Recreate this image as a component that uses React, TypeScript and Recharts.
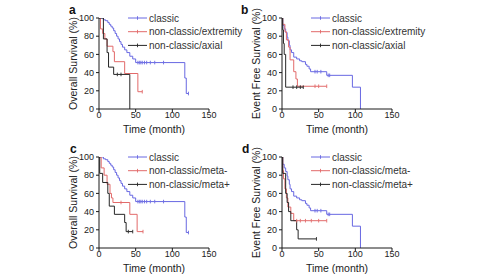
import { LineChart, Line, XAxis, YAxis } from "recharts";

const FONT = '"Liberation Sans Narrow", "Arial Narrow", "Liberation Sans", Arial, sans-serif';
const BLUE = "#6868e2";
const RED = "#e26a6a";
const BLACK = "#262626";
const AXIS = "#1a1a1a";

const xTicks = [0, 50, 100, 150];
const yTicks = [0, 20, 40, 60, 80, 100];

// overall survival (months / %), censor times in separate lists
const classicOSTime = [0, 6, 9, 12, 14, 16, 18, 20, 22, 24, 26, 28, 30, 32, 35, 38, 42, 46, 50, 117, 119];
const classicOSSurv = [100, 98, 97, 95, 93, 91, 89, 86, 83, 80, 77, 74, 71, 68, 65, 62, 58, 55, 51, 34, 17];
const classicOSCens = [53, 55, 57, 59, 62, 65, 70, 76, 88, 122];

const extremityOSTime = [0, 2, 5, 8, 11, 19, 21, 35, 53];
const extremityOSSurv = [100, 88, 83, 77, 69, 63, 52, 39, 19];
const extremityOSCens = [59];

const axialOSTime = [0, 6, 11, 13, 20, 42];
const axialOSSurv = [100, 77, 62, 46, 38, 0];
const axialOSCens = [25, 30];

const metaNegOSTime = [0, 3, 7, 11, 15, 17, 19, 42, 52];
const metaNegOSSurv = [100, 88, 80, 70, 60, 55, 50, 37, 18];
const metaNegOSCens = [30, 60];

const metaPosOSTime = [0, 1, 5, 12, 14, 21, 35, 37];
const metaPosOSSurv = [100, 82, 72, 60, 46, 37, 28, 18];
const metaPosOSCens = [40, 46];

// event free survival
const classicEFSTime = [0, 1, 3, 5, 7, 8, 10, 11, 13, 16, 20, 24, 27, 32, 34, 37, 39, 61, 96, 107];
const classicEFSSurv = [100, 92, 88, 84, 79, 75, 70, 65, 62, 57, 55, 53, 52, 49, 47, 44, 41, 37, 24, 0];
const classicEFSCens = [45, 48, 53, 63, 65];

const extremityEFSTime = [0, 1, 4, 6, 9, 11, 16, 19, 21];
const extremityEFSSurv = [100, 93, 85, 76, 68, 54, 41, 33, 25];
const extremityEFSCens = [45, 50, 61];

const axialEFSTime = [0, 1, 2, 3, 5];
const axialEFSSurv = [100, 87, 72, 60, 24];
const axialEFSCens = [15, 20, 25, 29];

const metaNegEFSTime = [0, 1, 2, 4, 6, 8, 12, 16];
const metaNegEFSSurv = [100, 85, 76, 65, 55, 45, 38, 30];
const metaNegEFSCens = [20, 25, 32, 40, 50, 61];

const metaPosEFSTime = [0, 1, 5, 7, 9, 12, 20, 22];
const metaPosEFSSurv = [100, 82, 60, 50, 40, 30, 20, 10];
const metaPosEFSCens = [47];

type Pt = { t: number; s: number; c?: boolean };

// merge event steps with censor marks (censor sits on the current step level)
function km(times: number[], surv: number[], cens: number[]): Pt[] {
  const pts: Pt[] = times.map((t, i) => ({ t, s: surv[i] }));
  cens.forEach((ct) => {
    let s = surv[0];
    times.forEach((t, i) => {
      if (t <= ct) s = surv[i];
    });
    pts.push({ t: ct, s, c: true });
  });
  return pts.sort((a, b) => a.t - b.t || (a.c ? 1 : 0) - (b.c ? 1 : 0));
}

type Series = { name: string; color: string; data: Pt[] };

const censorDot = (color: string) => (p: any) => {
  const k = `${color}-${p.index}`;
  if (!p.payload || !p.payload.c) return <g key={k} />;
  return <line key={k} x1={p.cx} x2={p.cx} y1={p.cy - 1.8} y2={p.cy + 1.8} stroke={color} strokeWidth={0.9} />;
};

function LegendBox({ series }: { series: Series[] }) {
  return (
    <svg width={130} height={44} style={{ overflow: "visible", display: "block" }}>
      {series.map((s, i) => {
        const y = 4 + i * 13.7;
        return (
          <g key={s.name}>
            <line x1={0} x2={19} y1={y} y2={y} stroke={s.color} strokeWidth={1} />
            <line x1={9.5} x2={9.5} y1={y - 1.8} y2={y + 1.8} stroke={s.color} strokeWidth={0.9} />
            <text x={21} y={y + 3.5} fontSize={10} fontFamily={FONT} fill="#333">
              {s.name}
            </text>
          </g>
        );
      })}
    </svg>
  );
}

const PW = 110;
const PH = 91;
const YW = 50;
const XH = 36;
const TOP = 12;

type PanelProps = { px: number; py: number; letter: string; lx: number; yLabel: string; series: Series[] };

function Panel({ px, py, letter, lx, yLabel, series }: PanelProps) {
  return (
    <>
      <div
        style={{
          position: "absolute",
          left: lx,
          top: py - 14,
          fontFamily: '"Liberation Sans", Arial, sans-serif',
          fontWeight: "bold",
          fontSize: 12,
          lineHeight: "12px",
          color: "#111",
        }}
      >
        {letter}
      </div>
      <div style={{ position: "absolute", left: px - YW, top: py - TOP }}>
        <LineChart width={PW + YW + 10} height={PH + TOP + XH} margin={{ top: TOP, right: 10, left: 0, bottom: 0 }}>
          <XAxis
            type="number"
            dataKey="t"
            domain={[0, 150]}
            ticks={xTicks}
            allowDataOverflow
            height={XH}
            tickSize={3}
            tickMargin={0}
            stroke={AXIS}
            tick={{ fontSize: 9, fill: "#222", fontFamily: FONT }}
            label={{ value: "Time (month)", position: "center", dy: 2, fontSize: 10.5, fill: "#222", fontFamily: FONT }}
          />
          <YAxis
            type="number"
            domain={[0, 100]}
            ticks={yTicks}
            allowDataOverflow
            width={YW}
            tickSize={3}
            tickMargin={2}
            stroke={AXIS}
            tick={{ fontSize: 9, fill: "#222", fontFamily: FONT }}
            label={{ value: yLabel, angle: -90, position: "center", dx: -1, fontSize: 10.5, fill: "#222", fontFamily: FONT }}
          />
          {series.map((s) => (
            <Line
              key={s.name}
              data={s.data}
              dataKey="s"
              type="stepAfter"
              stroke={s.color}
              strokeWidth={1}
              dot={censorDot(s.color)}
              activeDot={false}
              isAnimationActive={false}
            />
          ))}
        </LineChart>
      </div>
      <div style={{ position: "absolute", left: px + 29, top: py - 4 }}>
        <LegendBox series={series} />
      </div>
    </>
  );
}

const osExtremity: Series[] = [
  { name: "classic", color: BLUE, data: km(classicOSTime, classicOSSurv, classicOSCens) },
  { name: "non-classic/extremity", color: RED, data: km(extremityOSTime, extremityOSSurv, extremityOSCens) },
  { name: "non-classic/axial", color: BLACK, data: km(axialOSTime, axialOSSurv, axialOSCens) },
];

const efsExtremity: Series[] = [
  { name: "classic", color: BLUE, data: km(classicEFSTime, classicEFSSurv, classicEFSCens) },
  { name: "non-classic/extremity", color: RED, data: km(extremityEFSTime, extremityEFSSurv, extremityEFSCens) },
  { name: "non-classic/axial", color: BLACK, data: km(axialEFSTime, axialEFSSurv, axialEFSCens) },
];

const osMeta: Series[] = [
  { name: "classic", color: BLUE, data: km(classicOSTime, classicOSSurv, classicOSCens) },
  { name: "non-classic/meta-", color: RED, data: km(metaNegOSTime, metaNegOSSurv, metaNegOSCens) },
  { name: "non-classic/meta+", color: BLACK, data: km(metaPosOSTime, metaPosOSSurv, metaPosOSCens) },
];

const efsMeta: Series[] = [
  { name: "classic", color: BLUE, data: km(classicEFSTime, classicEFSSurv, classicEFSCens) },
  { name: "non-classic/meta-", color: RED, data: km(metaNegEFSTime, metaNegEFSSurv, metaNegEFSCens) },
  { name: "non-classic/meta+", color: BLACK, data: km(metaPosEFSTime, metaPosEFSSurv, metaPosEFSCens) },
];

export default function App() {
  return (
    <div style={{ position: "absolute", left: 0, top: 0, width: 480, height: 275, background: "#fff", overflow: "hidden" }}>
      <Panel px={99} py={18} letter="a" lx={69} yLabel="Overall Survival (%)" series={osExtremity} />
      <Panel px={282} py={18} letter="b" lx={241} yLabel="Event Free Survival (%)" series={efsExtremity} />
      <Panel px={99} py={157} letter="c" lx={70} yLabel="Overall Survival (%)" series={osMeta} />
      <Panel px={282} py={157} letter="d" lx={242} yLabel="Event Free Survival (%)" series={efsMeta} />
    </div>
  );
}
